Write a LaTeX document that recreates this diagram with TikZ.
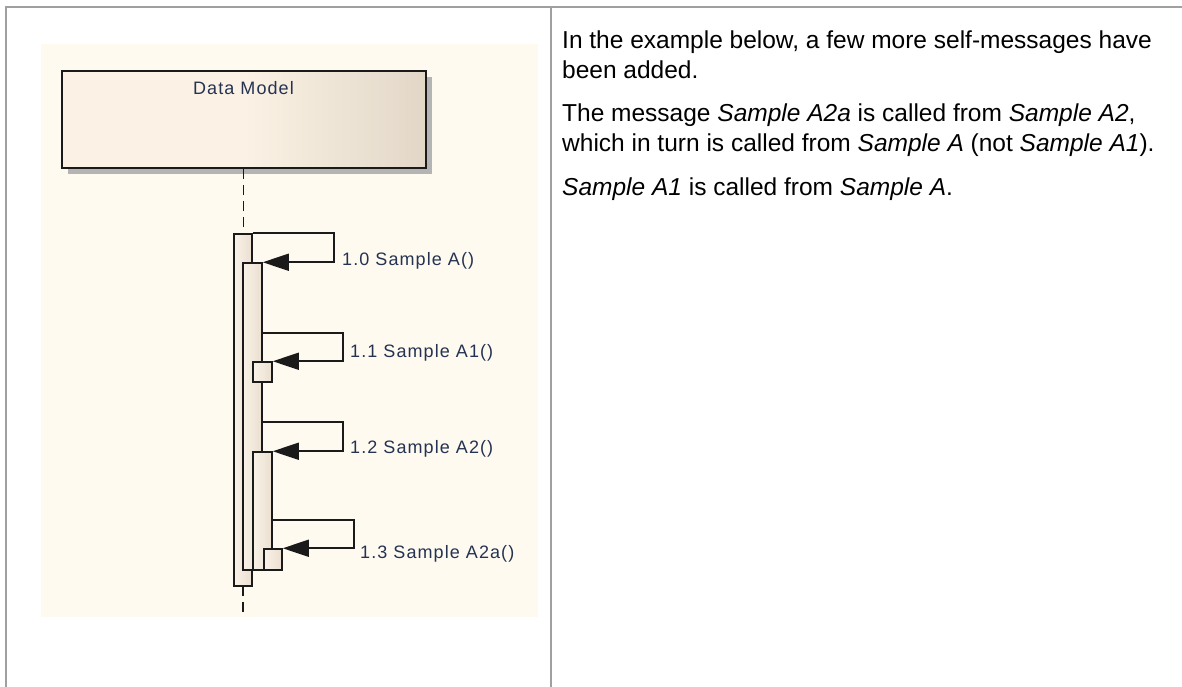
\documentclass[tikz,border=0pt]{standalone}
\usepackage{fontspec}
\setmainfont{Liberation Sans}
\newfontfamily\msgfont[LetterSpace=6]{Liberation Sans}
\usepackage{tikz}
\usetikzlibrary{arrows.meta, positioning, shadows}
\definecolor{sframe}{HTML}{A0A0A0}
\definecolor{scream}{HTML}{FFFAF0}
\definecolor{sboxl}{HTML}{FBF2E5}
\definecolor{sboxr}{HTML}{E2D7C7}
\definecolor{sactl}{HTML}{FAF2E7}
\definecolor{sactr}{HTML}{EADFD0}
\definecolor{sink}{HTML}{1A1A1A}
\definecolor{slabel}{HTML}{243352}
\definecolor{sshadow}{HTML}{B4B4B4}
\tikzset{
  lifebox/.style={draw=sink, line width=2pt, left color=sboxl, right color=sboxr,
                  middle color=sboxl, minimum width=364pt, minimum height=97pt, inner sep=0pt,
                  drop shadow={shadow xshift=6pt, shadow yshift=-6pt, fill=sshadow, opacity=1}},
  actbar/.style={draw=sink, line width=1.5pt, left color=sactl, right color=sactr,
                 inner sep=0pt, minimum width=19pt},
  selfmsg/.style={-{Triangle[length=26pt, width=17pt]}, line width=1.6pt, sink},
  lifeline/.style={sink, line width=1.5pt, dash pattern=on 10pt off 6pt},
  msglabel/.style={font=\msgfont\fontsize{18}{20}\selectfont, text=slabel,
                   anchor=base west, inner sep=0pt},
  prose/.style={font=\fontsize{24.5}{30}\selectfont, anchor=base west, inner sep=0pt},
}
\begin{document}
\begin{tikzpicture}[x=1pt, y=-1pt]
  \useasboundingbox (0,0) rectangle (1182,687);
  \fill[white] (0,0) rectangle (1182,687);

  %% Table frame
  \draw[sframe, line width=2pt] (6,687) -- (6,7.5) -- (1182,7.5);
  \draw[sframe, line width=2pt] (551,7.5) -- (551,687);

  %% Diagram canvas
  \fill[scream] (41,44) rectangle (538,617);

  %% Lifeline head
  \node[lifebox] (dm) at (243.5,119.5) {};
  \node[font=\msgfont\fontsize{18}{20}\selectfont, text=slabel, inner sep=0pt,
        below=11pt of dm.north] (dmname) {Data Model};

  %% Lifeline
  \draw[lifeline] (dm.south) -- (dm.south |- 0,234);
  \coordinate (lifeend) at (243,617);
  \draw[lifeline] (243,586) -- (lifeend);

  %% Activations
  \node[actbar, minimum width=18pt, minimum height=352pt] (act1) at (243,410) {};
  \node[actbar, minimum height=307pt] (act2) at (252.5,416.5) {};
  \node[actbar, minimum height=118pt] (act3) at (262.5,511) {};
  \node[actbar, minimum height=20pt] (act11) at (262.5,372) {};
  \node[actbar, minimum width=18pt, minimum height=21pt] (act13) at (273,559.5) {};

  %% Self-messages
  \draw[selfmsg] (act1.north east) -- ++(81,0) |- (act2.north east);
  \coordinate (m11) at (262,333);
  \draw[selfmsg] (m11) -- ++(81,0) |- (act11.north east);
  \coordinate (m12) at (262,422);
  \draw[selfmsg] (m12) -- ++(81,0) |- (act3.north east);
  \coordinate (m13) at (272,520);
  \draw[selfmsg] (m13) -- ++(82,0) |- (act13.north east);

  %% Message labels
  \node[msglabel] (l10) at (342,265) {1.0 Sample A()};
  \node[msglabel] (l11) at (350,357) {1.1 Sample A1()};
  \node[msglabel] (l12) at (350,453) {1.2 Sample A2()};
  \node[msglabel] (l13) at (360,558) {1.3 Sample A2a()};

  %% Explanation
  \node[prose] (p1a) at (562,49) {In the example below, a few more self-messages have};
  \node[prose] (p1b) at (562,79) {been added.};
  \node[prose] (p2a) at (562,122) {The message \textit{Sample A2a} is called from \textit{Sample A2},};
  \node[prose] (p2b) at (562,152) {which in turn is called from \textit{Sample A} (not \textit{Sample A1}).};
  \node[prose] (p3) at (562,195) {\textit{Sample A1} is called from \textit{Sample A}.};
\end{tikzpicture}
\end{document}
